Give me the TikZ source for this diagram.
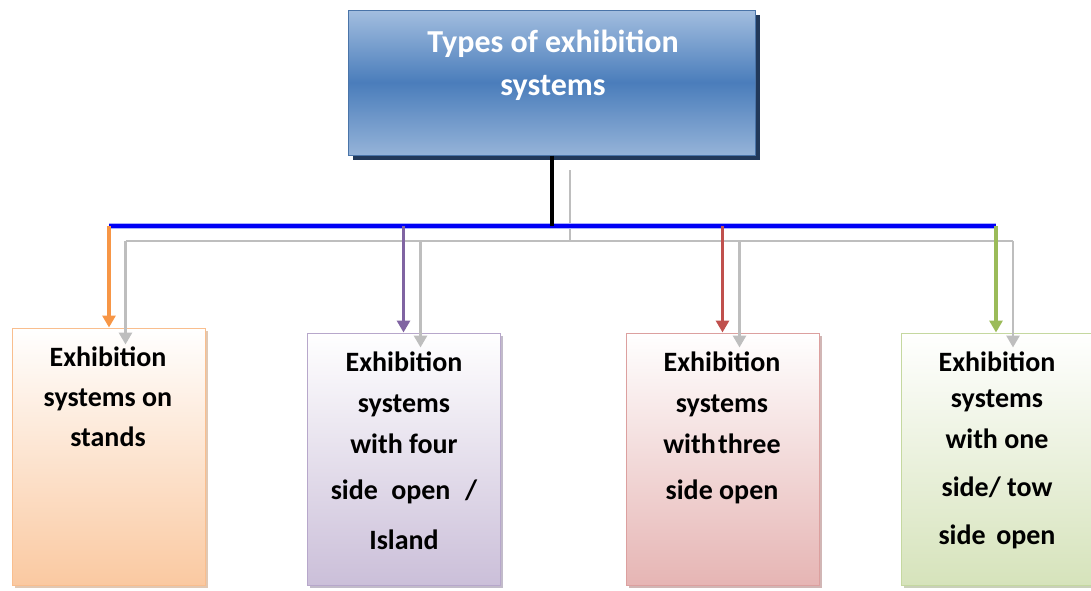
\documentclass[tikz,border=0pt]{standalone}
\usepackage{fontspec}
\setmainfont{Carlito}
\usetikzlibrary{arrows.meta,shadows}
\definecolor{tbTop}{HTML}{A3BEDF}
\definecolor{tbMid}{HTML}{4A7DBB}
\definecolor{tbBot}{HTML}{95B3D8}
\definecolor{tbLine}{HTML}{4A74A8}
\definecolor{tbShadow}{HTML}{22395A}
\definecolor{cOr}{HTML}{F79646}
\definecolor{cOrB}{HTML}{FAC9A1}
\definecolor{cOrL}{HTML}{F9BE8E}
\definecolor{cPu}{HTML}{8064A2}
\definecolor{cPuB}{HTML}{CBBFD9}
\definecolor{cPuL}{HTML}{B7A7CB}
\definecolor{cRe}{HTML}{C0504D}
\definecolor{cReB}{HTML}{E6B5B4}
\definecolor{cReL}{HTML}{DCA09F}
\definecolor{cGr}{HTML}{9BBB59}
\definecolor{cGrB}{HTML}{D6E3BB}
\definecolor{cGrL}{HTML}{C5D8A0}
\definecolor{cGray}{HTML}{BEBEBE}
\definecolor{cBlue}{HTML}{0000F5}
\definecolor{cGlow}{HTML}{A8B0FF}
\tikzset{
  topbox/.style={rectangle, draw=tbLine, line width=1pt, top color=tbTop, bottom color=tbBot, middle color=tbMid,
    minimum width=407pt, minimum height=145pt, inner sep=0pt,
    drop shadow={shadow xshift=5pt, shadow yshift=-5pt, fill=tbShadow, opacity=1}},
  subbox/.style={rectangle, line width=1pt, minimum width=193pt, inner sep=0pt},
  boxtext/.style={anchor=north, align=center, inner sep=0pt, font=\fontsize{28}{41}\selectfont\bfseries},
  titletext/.style={anchor=north, align=center, inner sep=0pt, text=white, font=\fontsize{32}{43}\selectfont\bfseries},
  colarrow/.style={line width=3.2pt, -{Triangle[width=13pt,length=12pt]}},
  grayline/.style={cGray, line width=2.8pt, line join=round},
  grayarrow/.style={cGray, line width=2.8pt, -{Triangle[width=13pt,length=12pt]}},
}
\begin{document}
\begin{tikzpicture}[x=1pt,y=-1pt]
\useasboundingbox (0,0) rectangle (1091,590);
% top node
\node[topbox] (top) at (551.5,82.5) {};
\node[titletext] (title) at (553,30) {Types of exhibition\\systems};
% boxes
\node[subbox, draw=cOrL, top color=white, bottom color=cOrB,
  drop shadow={shadow xshift=3pt, shadow yshift=-3pt, fill=cOr!55!gray!60, opacity=0.8},
  minimum height=257pt] (b1) at (108.5,456.5) {};
\node[subbox, draw=cPuL, top color=white, bottom color=cPuB,
  drop shadow={shadow xshift=3pt, shadow yshift=-3pt, fill=cPu!50!gray!60, opacity=0.8},
  minimum height=252pt] (b2) at (403.5,459) {};
\node[subbox, draw=cReL, top color=white, bottom color=cReB,
  drop shadow={shadow xshift=3pt, shadow yshift=-3pt, fill=cRe!50!gray!60, opacity=0.8},
  minimum height=252pt] (b3) at (722.5,459) {};
\node[subbox, draw=cGrL, top color=white, bottom color=cGrB,
  drop shadow={shadow xshift=3pt, shadow yshift=-3pt, fill=cGr!50!gray!60, opacity=0.8},
  minimum height=252pt] (b4) at (997.5,459) {};
% texts
\node[boxtext] (t1) at (108,347) {Exhibition\\[-1pt]systems on\\[-1pt]stands};
\node[boxtext] (t2) at (404,352) {Exhibition\\systems\\with four\\[5pt]side\hspace{0.25em} open\hspace{0.3em} /\\[9pt]Island};
\node[boxtext] (t3) at (722,352) {Exhibition\\systems\\with\hspace{0.08em}three\\[5pt]side open};
\node[boxtext] (t4) at (997,352) {Exhibition\\[-5pt]systems\\with one\\[7pt]side/ tow\\[7pt]side\hspace{0.15em} open};
% connector coordinates
\coordinate (bl) at (109,226);
\coordinate (br) at (996,226);
\coordinate (gt) at (570,170);
\coordinate (gl) at (125.5,241);
\coordinate (gr) at (1013,241);
% gray connectors
\draw[grayline] (gt) -- (gt |- gl);
\draw[grayline] (gl) -- (gr);
\draw[grayarrow] (gl) -- ([yshift=-17pt]b1.north -| gl);
\draw[grayarrow] ([xshift=17pt]b2.north |- gl) -- ([xshift=17pt,yshift=-15pt]b2.north);
\draw[grayarrow] ([xshift=17pt]b3.north |- gl) -- ([xshift=17pt,yshift=-15pt]b3.north);
\draw[grayarrow] (gr) -- ([yshift=-15pt]b4.north -| gr);
% blue bar
\draw[cGlow, line width=5.5pt] (bl) -- (br);
\draw[cBlue, line width=3.2pt] (bl) -- (br);
% black stem
\draw[black, line width=3.6pt] (top.south -| 552,0) -- (552,226);
% coloured arrows
\draw[colarrow, cOr] (bl) -- (bl |- b1.north);
\draw[colarrow, cPu] (b2.north |- bl) -- (b2.north);
\draw[colarrow, cRe] (b3.north |- bl) -- (b3.north);
\draw[colarrow, cGr] (br) -- (br |- b4.north);
\end{tikzpicture}
\end{document}
